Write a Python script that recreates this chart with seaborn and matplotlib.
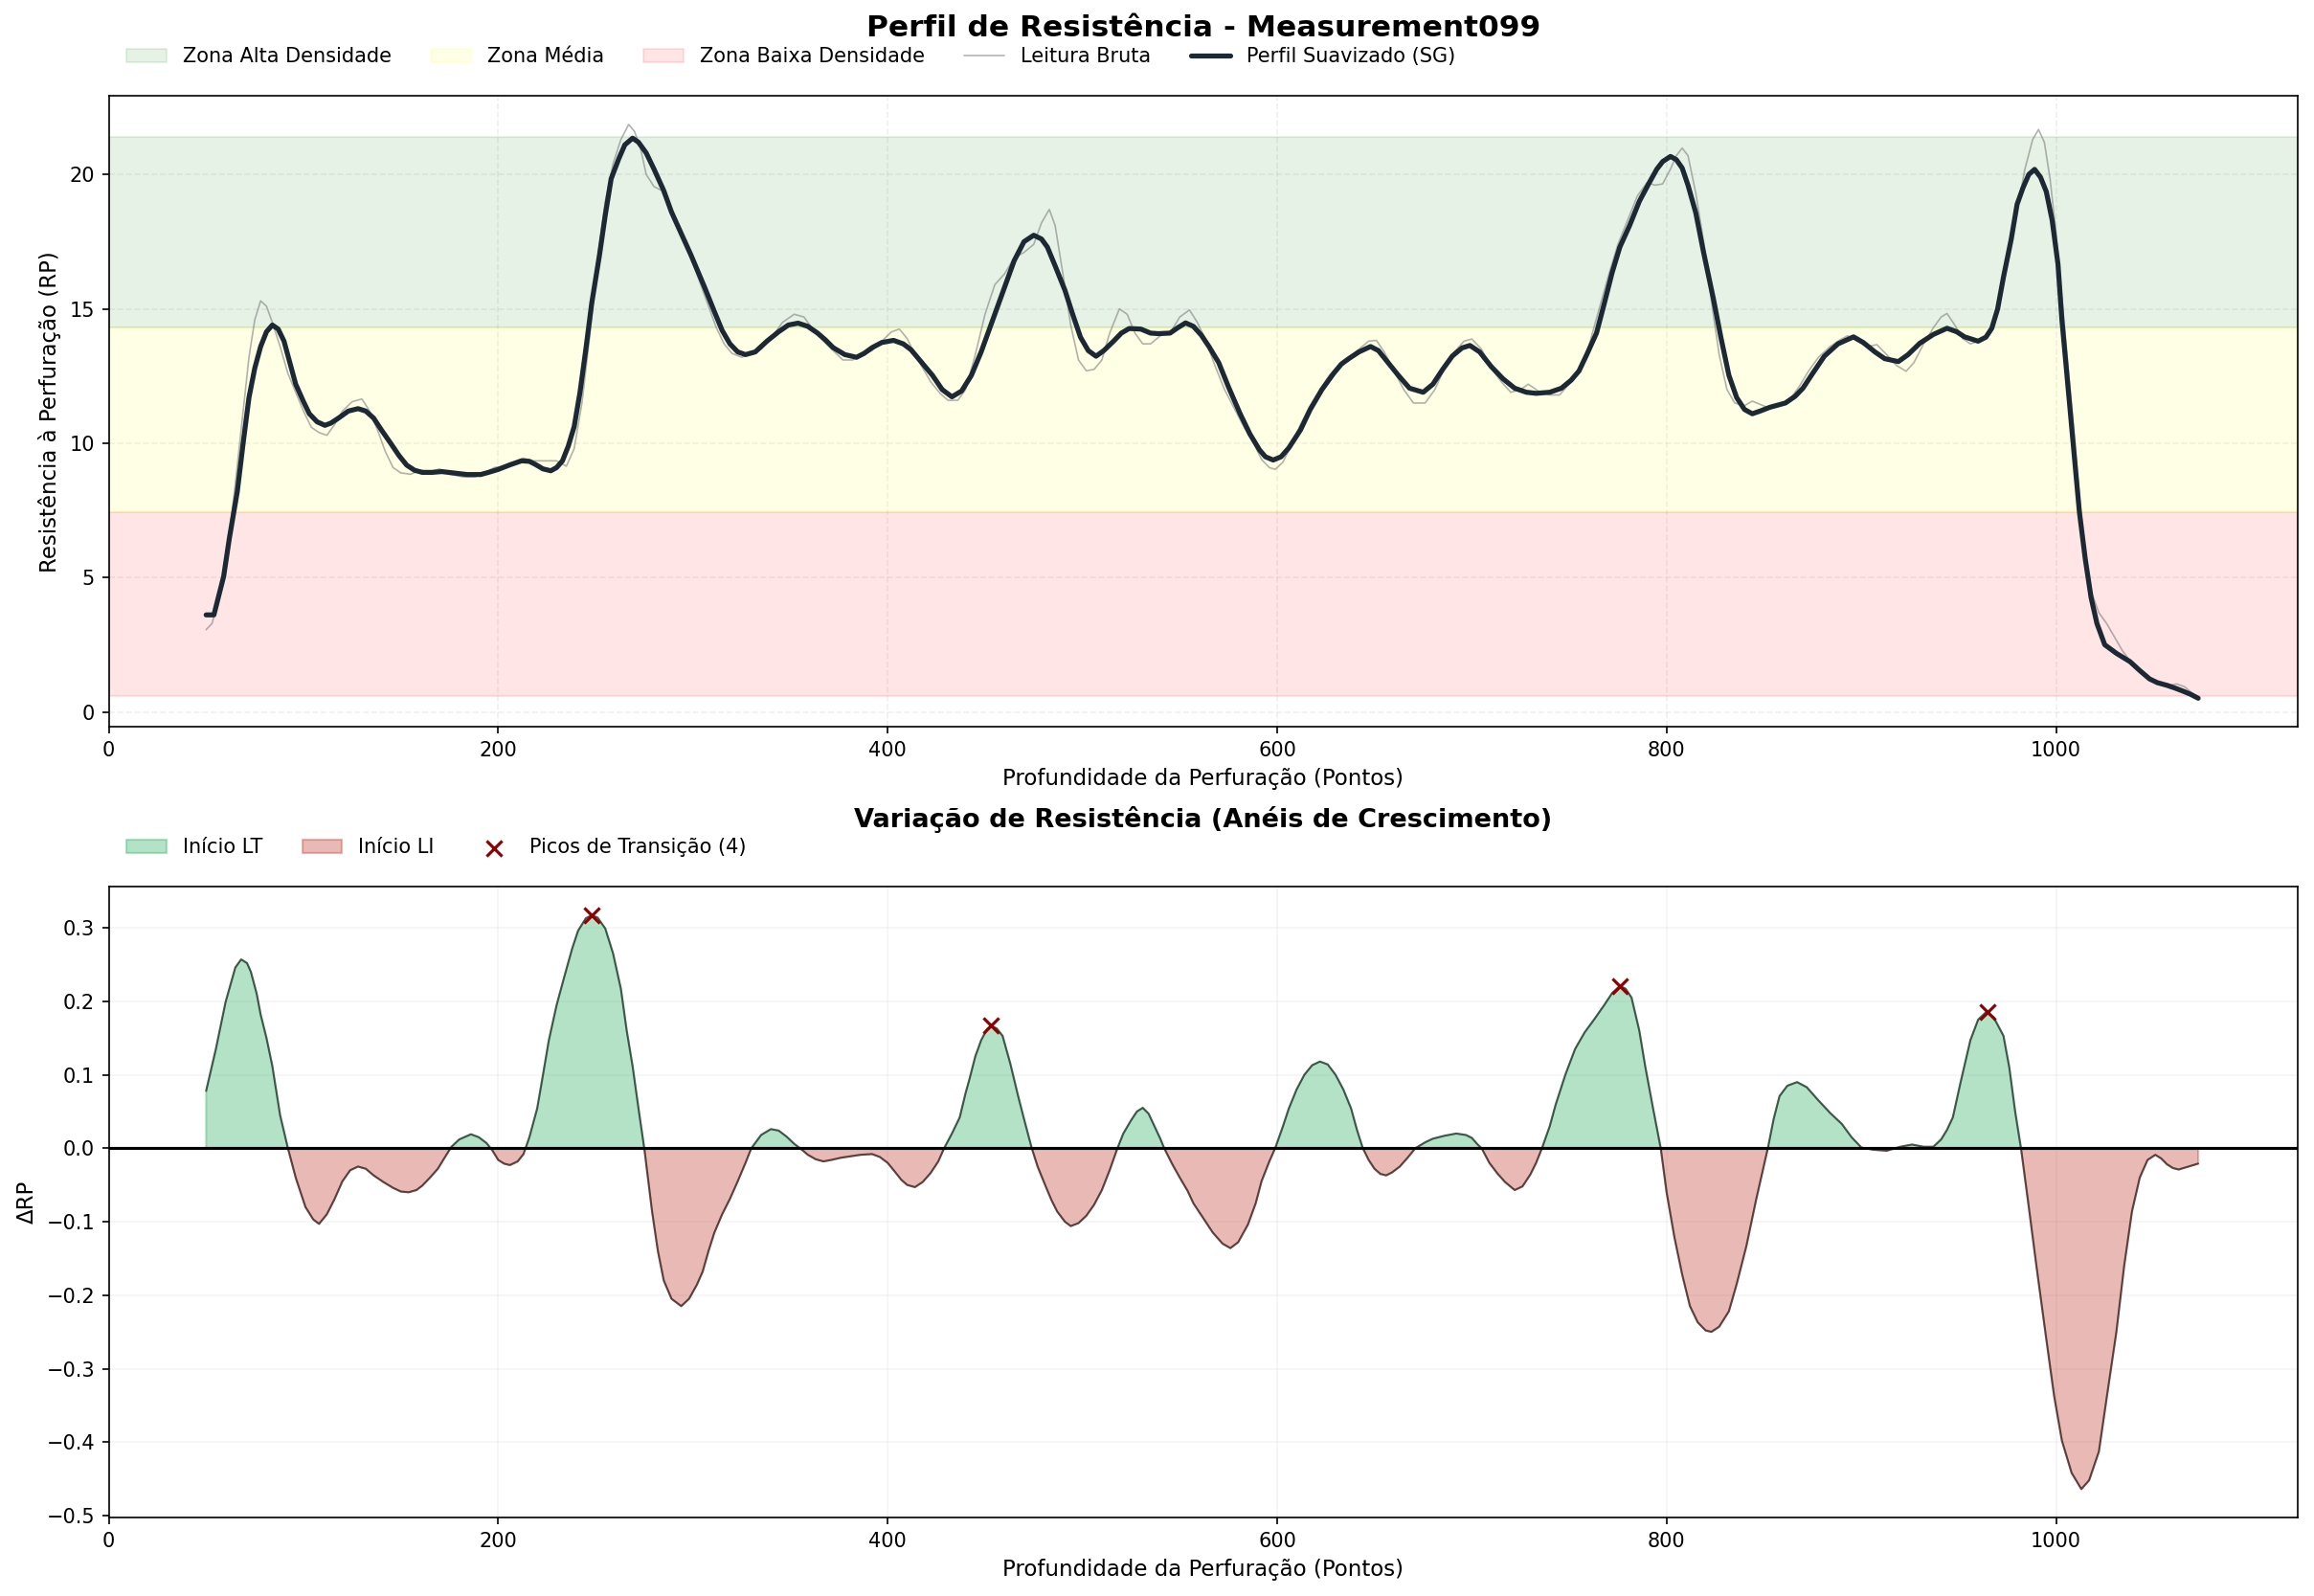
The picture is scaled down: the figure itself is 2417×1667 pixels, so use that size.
import numpy as np
import pandas as pd
import matplotlib
matplotlib.use("Agg")
import matplotlib.pyplot as plt
import seaborn as sns
from matplotlib.patches import Patch
from matplotlib.lines import Line2D

# ---- data ----
smooth_depth = [50, 54, 59, 62, 66, 69, 72, 75, 78, 81, 84, 87, 90, 93, 96, 100, 103, 107, 111, 114,
                118, 123, 128, 132, 136, 140, 145, 149, 153, 157, 161, 166, 171, 177, 184, 191, 195, 200,
                206, 212, 216, 219, 223, 227, 230, 233, 236, 239, 242, 245, 248, 252, 255, 258, 262, 265,
                269, 272, 276, 280, 285, 289, 294, 299, 306, 311, 315, 319, 323, 327, 332, 338, 344, 349,
                354, 359, 364, 368, 372, 378, 384, 388, 392, 397, 403, 408, 412, 417, 423, 428, 433, 438,
                443, 448, 454, 460, 465, 470, 475, 479, 482, 486, 491, 495, 499, 503, 507, 511, 516, 520,
                524, 530, 535, 539, 545, 549, 553, 557, 561, 565, 570, 575, 581, 586, 591, 594, 598, 602,
                606, 612, 617, 623, 629, 633, 637, 642, 648, 652, 657, 662, 668, 675, 680, 685, 690, 695,
                699, 704, 710, 716, 722, 728, 733, 740, 746, 751, 755, 759, 764, 768, 772, 776, 781, 786,
                791, 795, 798, 802, 805, 808, 811, 815, 819, 824, 828, 832, 836, 840, 844, 848, 853, 861,
                866, 870, 875, 881, 888, 896, 901, 907, 912, 919, 924, 930, 937, 944, 949, 953, 960, 964,
                967, 970, 973, 977, 980, 983, 986, 989, 992, 995, 998, 1001, 1003, 1006, 1009, 1012, 1015,
                1018, 1021, 1025, 1031, 1038, 1043, 1048, 1052, 1057, 1061, 1065, 1069, 1073]
smooth_rp = [3.62, 3.62, 5.05, 6.5, 8.2, 10.0, 11.7, 12.8, 13.6, 14.15, 14.4, 14.25, 13.8, 13.0, 12.2,
             11.55, 11.1, 10.8, 10.67, 10.75, 10.94, 11.2, 11.29, 11.2, 10.94, 10.5, 9.98, 9.55, 9.19,
             9.0, 8.92, 8.92, 8.95, 8.9, 8.84, 8.84, 8.92, 9.03, 9.2, 9.35, 9.33, 9.22, 9.05, 8.98, 9.1,
             9.35, 9.9, 10.62, 11.9, 13.5, 15.2, 17.0, 18.5, 19.84, 20.6, 21.1, 21.35, 21.2, 20.8, 20.2,
             19.4, 18.6, 17.8, 17.0, 15.8, 14.9, 14.2, 13.7, 13.4, 13.3, 13.4, 13.8, 14.15, 14.4, 14.47,
             14.35, 14.1, 13.85, 13.56, 13.3, 13.2, 13.35, 13.56, 13.75, 13.83, 13.7, 13.48, 13.05,
             12.53, 12.0, 11.73, 11.95, 12.53, 13.4, 14.6, 15.8, 16.8, 17.5, 17.74, 17.6, 17.3, 16.6,
             15.7, 14.8, 13.95, 13.45, 13.24, 13.45, 13.8, 14.1, 14.27, 14.25, 14.1, 14.08, 14.1, 14.3,
             14.48, 14.35, 14.03, 13.6, 13.0, 12.1, 11.1, 10.35, 9.75, 9.5, 9.38, 9.5, 9.83, 10.5, 11.26,
             12.0, 12.6, 12.95, 13.16, 13.4, 13.6, 13.45, 13.0, 12.55, 12.05, 11.9, 12.2, 12.75, 13.25,
             13.55, 13.64, 13.4, 12.85, 12.4, 12.05, 11.9, 11.86, 11.9, 12.05, 12.35, 12.69, 13.3, 14.1,
             15.2, 16.34, 17.3, 18.1, 19.0, 19.68, 20.2, 20.48, 20.67, 20.55, 20.24, 19.6, 18.57, 17.1,
             15.39, 13.9, 12.53, 11.7, 11.26, 11.1, 11.2, 11.34, 11.5, 11.75, 12.05, 12.6, 13.24, 13.7,
             13.96, 13.75, 13.4, 13.15, 13.04, 13.3, 13.72, 14.05, 14.28, 14.15, 13.96, 13.8, 13.95,
             14.28, 15.0, 16.18, 17.6, 18.89, 19.5, 20.0, 20.19, 19.9, 19.36, 18.3, 16.66, 14.6, 12.2,
             9.8, 7.44, 5.7, 4.26, 3.3, 2.51, 2.19, 1.88, 1.55, 1.24, 1.1, 1.0, 0.9, 0.79, 0.67, 0.52]

raw_depth = [50, 53, 57, 61, 65, 69, 72, 75, 78, 81, 84, 88, 92, 96, 100, 104, 108, 112, 116, 120, 125,
             130, 134, 138, 142, 146, 150, 155, 160, 165, 170, 175, 182, 188, 193, 198, 203, 208, 213,
             218, 224, 230, 235, 239, 243, 247, 251, 255, 259, 263, 267, 270, 273, 276, 280, 284, 289,
             294, 299, 304, 308, 312, 316, 320, 325, 330, 335, 340, 346, 352, 357, 362, 367, 372, 377,
             382, 387, 392, 397, 402, 406, 410, 414, 418, 422, 427, 431, 436, 440, 445, 450, 455, 460,
             465, 470, 475, 479, 483, 486, 490, 494, 498, 502, 506, 510, 514, 519, 523, 527, 531, 535,
             540, 545, 550, 555, 559, 563, 568, 573, 578, 583, 588, 592, 596, 599, 603, 607, 612, 617,
             622, 627, 632, 637, 642, 647, 651, 655, 660, 665, 670, 676, 681, 686, 691, 696, 700, 705,
             710, 715, 720, 725, 729, 734, 740, 745, 750, 755, 760, 765, 770, 775, 780, 785, 790, 794,
             798, 802, 805, 808, 811, 815, 819, 823, 827, 831, 835, 840, 844, 848, 853, 858, 863, 868,
             873, 878, 884, 889, 893, 898, 903, 908, 913, 918, 923, 927, 932, 937, 941, 944, 948, 952,
             956, 960, 964, 968, 972, 976, 980, 984, 988, 991, 994, 997, 1000, 1003, 1006, 1009, 1012,
             1015, 1018, 1022, 1026, 1030, 1034, 1038, 1043, 1048, 1053, 1058, 1062, 1066, 1070, 1073]
raw_rp = [3.07, 3.3, 4.3, 6.0, 8.5, 11.2, 13.2, 14.6, 15.3, 15.1, 14.5, 13.6, 12.6, 11.9, 11.2, 10.6,
          10.4, 10.3, 10.7, 11.2, 11.55, 11.65, 11.2, 10.5, 9.7, 9.1, 8.9, 8.85, 9.0, 8.95, 9.05, 8.85,
          8.75, 8.75, 8.9, 9.1, 9.15, 9.3, 9.45, 9.35, 9.35, 9.35, 9.15, 9.8, 11.5, 14.0, 16.8, 19.0,
          20.4, 21.3, 21.86, 21.6, 21.0, 20.0, 19.55, 19.4, 18.5, 17.7, 16.9, 15.9, 15.1, 14.3, 13.7,
          13.35, 13.2, 13.35, 13.5, 13.9, 14.5, 14.8, 14.7, 14.2, 13.8, 13.45, 13.1, 13.1, 13.3, 13.45,
          13.8, 14.15, 14.25, 13.9, 13.3, 12.8, 12.3, 11.85, 11.6, 11.6, 12.0, 13.3, 14.8, 15.9, 16.3,
          16.9, 17.1, 17.4, 18.2, 18.7, 18.1, 16.3, 14.4, 13.1, 12.7, 12.75, 13.1, 14.1, 15.0, 14.8,
          14.1, 13.7, 13.7, 14.0, 14.1, 14.7, 14.96, 14.5, 13.9, 12.9, 12.0, 11.3, 10.6, 10.0, 9.4,
          9.1, 9.03, 9.3, 9.9, 10.7, 11.4, 12.0, 12.55, 12.9, 13.2, 13.5, 13.8, 13.83, 13.4, 12.7,
          12.0, 11.5, 11.5, 12.0, 12.8, 13.4, 13.8, 13.88, 13.5, 12.8, 12.3, 11.9, 12.0, 12.2, 11.95,
          11.8, 11.8, 12.2, 12.7, 13.6, 14.9, 16.2, 17.4, 18.3, 19.2, 19.7, 19.6, 19.65, 20.2, 20.7,
          20.98, 20.7, 19.3, 17.5, 15.3, 13.3, 12.0, 11.5, 11.4, 11.57, 11.45, 11.3, 11.4, 11.6, 12.1,
          12.7, 13.2, 13.6, 13.85, 14.0, 13.8, 13.6, 13.67, 13.3, 12.9, 12.68, 13.0, 13.7, 14.3, 14.7,
          14.83, 14.4, 13.9, 13.7, 13.8, 14.0, 14.5, 15.6, 17.0, 18.6, 20.2, 21.3, 21.67, 21.2, 19.8,
          17.8, 15.4, 13.0, 10.6, 8.0, 5.8, 4.5, 3.7, 3.3, 2.8, 2.3, 1.9, 1.5, 1.25, 1.1, 1.0, 1.05,
          0.95, 0.7, 0.55]

zone_limits = [0.6, 7.45, 14.3, 21.4]  # baixa / media / alta boundaries

delta_depth = [50, 55, 60, 65, 68, 71, 73, 76, 78, 81, 84, 88, 92, 96, 101, 105, 108, 112, 116, 120,
               124, 128, 132, 136, 141, 146, 150, 154, 158, 161, 165, 169, 172, 176, 180, 186, 190, 194,
               197, 200, 203, 206, 210, 213, 216, 220, 223, 226, 230, 234, 238, 241, 245, 248, 251, 255,
               259, 263, 266, 269, 272, 275, 279, 282, 285, 289, 294, 298, 302, 305, 308, 311, 315, 319,
               323, 327, 330, 335, 340, 344, 348, 352, 355, 359, 363, 367, 371, 376, 381, 386, 392, 396,
               400, 404, 407, 410, 414, 418, 422, 426, 429, 433, 437, 440, 442, 445, 448, 451, 453, 456,
               459, 463, 467, 470, 474, 477, 481, 484, 487, 491, 494, 498, 502, 506, 510, 514, 518, 521,
               525, 528, 531, 534, 537, 540, 542, 546, 550, 554, 557, 562, 567, 572, 576, 580, 585, 589,
               592, 596, 599, 603, 606, 610, 614, 618, 622, 626, 630, 634, 638, 641, 644, 647, 650, 653,
               656, 659, 663, 667, 671, 676, 680, 686, 692, 697, 700, 703, 705, 709, 713, 717, 722, 726,
               730, 733, 736, 740, 743, 748, 753, 758, 763, 768, 772, 776, 779, 782, 786, 789, 793, 797,
               800, 804, 808, 812, 816, 820, 823, 827, 832, 836, 841, 846, 852, 855, 858, 862, 867, 872,
               878, 884, 890, 895, 900, 906, 913, 920, 926, 932, 937, 941, 944, 947, 951, 956, 960, 964,
               968, 973, 976, 979, 982, 986, 990, 995, 999, 1003, 1008, 1013, 1017, 1022, 1026, 1031,
               1035, 1039, 1043, 1047, 1051, 1054, 1057, 1060, 1063, 1068, 1073]
delta_rp = [0.078, 0.135, 0.199, 0.246, 0.257, 0.252, 0.240, 0.21, 0.182, 0.15, 0.112, 0.045, 0.0,
            -0.040, -0.080, -0.097, -0.103, -0.090, -0.069, -0.045, -0.030, -0.025, -0.028, -0.037,
            -0.046, -0.054, -0.059, -0.060, -0.057, -0.051, -0.04, -0.028, -0.015, 0.002, 0.012, 0.019,
            0.015, 0.007, -0.003, -0.016, -0.021, -0.023, -0.018, -0.008, 0.015, 0.054, 0.1, 0.147,
            0.195, 0.234, 0.272, 0.296, 0.313, 0.317, 0.314, 0.299, 0.265, 0.217, 0.16, 0.112, 0.055,
            0.0, -0.086, -0.14, -0.180, -0.205, -0.215, -0.205, -0.186, -0.168, -0.14, -0.115, -0.09,
            -0.069, -0.045, -0.02, 0.0, 0.018, 0.026, 0.024, 0.016, 0.006, 0.0, -0.009, -0.015, -0.018,
            -0.016, -0.013, -0.011, -0.009, -0.008, -0.012, -0.02, -0.033, -0.043, -0.05, -0.053,
            -0.046, -0.034, -0.018, 0.0, 0.02, 0.042, 0.075, 0.094, 0.125, 0.147, 0.162, 0.167, 0.163,
            0.153, 0.115, 0.071, 0.04, 0.0, -0.025, -0.051, -0.07, -0.086, -0.1, -0.106, -0.102,
            -0.092, -0.077, -0.057, -0.03, 0.0, 0.02, 0.038, 0.05, 0.055, 0.047, 0.030, 0.013, 0.0,
            -0.021, -0.040, -0.058, -0.075, -0.095, -0.115, -0.13, -0.136, -0.128, -0.104, -0.075,
            -0.045, -0.018, 0.0, 0.03, 0.054, 0.08, 0.100, 0.113, 0.118, 0.114, 0.100, 0.08, 0.054,
            0.025, 0.0, -0.016, -0.028, -0.035, -0.037, -0.033, -0.025, -0.013, 0.0, 0.008, 0.013,
            0.017, 0.020, 0.018, 0.014, 0.005, 0.0, -0.02, -0.034, -0.046, -0.057, -0.052, -0.036,
            -0.02, 0.0, 0.03, 0.059, 0.1, 0.135, 0.158, 0.176, 0.195, 0.211, 0.221, 0.217, 0.205, 0.16,
            0.112, 0.055, 0.0, -0.06, -0.121, -0.172, -0.215, -0.237, -0.248, -0.250, -0.243, -0.222,
            -0.185, -0.133, -0.07, 0.0, 0.04, 0.071, 0.085, 0.090, 0.083, 0.065, 0.048, 0.033, 0.015,
            0.001, -0.002, -0.0035, 0.002, 0.005, 0.002, 0.002, 0.012, 0.025, 0.042, 0.09, 0.147,
            0.175, 0.185, 0.178, 0.153, 0.11, 0.05, 0.0, -0.08, -0.162, -0.26, -0.337, -0.398, -0.442,
            -0.464, -0.452, -0.413, -0.34, -0.250, -0.16, -0.086, -0.04, -0.016, -0.009, -0.014,
            -0.022, -0.027, -0.029, -0.025, -0.021]

peak_depth = [248, 453, 776, 965]
peak_delta = [0.317, 0.167, 0.221, 0.185]


def main():
    sns.set_style("ticks")
    plt.rcParams["font.family"] = ["DejaVu Sans"]
    plt.rcParams.update({
        "text.color": "black",
        "axes.labelcolor": "black",
        "xtick.color": "black",
        "ytick.color": "black",
        "axes.edgecolor": "black",
    })

    fig, (ax1, ax2) = plt.subplots(2, 1, figsize=(2417 / 150, 1667 / 150), dpi=150)
    fig.subplots_adjust(left=0.047, right=0.993, top=0.940, bottom=0.049, hspace=0.253)

    # ---- top: resistance profile ----
    ax1.axhspan(zone_limits[0], zone_limits[1], color="red", alpha=0.1)
    ax1.axhspan(zone_limits[1], zone_limits[2], color="yellow", alpha=0.1)
    ax1.axhspan(zone_limits[2], zone_limits[3], color="green", alpha=0.1)

    raw = pd.DataFrame({"depth": raw_depth, "rp": raw_rp})
    smooth = pd.DataFrame({"depth": smooth_depth, "rp": smooth_rp})
    sns.lineplot(data=raw, x="depth", y="rp", ax=ax1, color="gray", lw=0.8, alpha=0.6)
    sns.lineplot(data=smooth, x="depth", y="rp", ax=ax1, color="#1c2833", lw=2.5)

    ax1.grid(True, linestyle="--", alpha=0.3)
    ax1.set_xlabel("Profundidade da Perfuração (Pontos)", fontsize=11)
    ax1.set_ylabel("Resistência à Perfuração (RP)", fontsize=11)
    ax1.set_title("Perfil de Resistência - Measurement099", fontsize=15, fontweight="bold", pad=30)
    ax1.set_xlim(left=0)
    handles = [
        Patch(facecolor="green", edgecolor="green", alpha=0.1),
        Patch(facecolor="yellow", edgecolor="yellow", alpha=0.1),
        Patch(facecolor="red", edgecolor="red", alpha=0.1),
        Line2D([], [], color="gray", lw=0.8, alpha=0.6),
        Line2D([], [], color="#1c2833", lw=2.5),
    ]
    labels = ["Zona Alta Densidade", "Zona Média", "Zona Baixa Densidade",
              "Leitura Bruta", "Perfil Suavizado (SG)"]
    ax1.legend(handles, labels, loc="lower left", bbox_to_anchor=(0, 1.018), ncol=5,
               frameon=False, fontsize=10)

    # ---- bottom: resistance variation ----
    d = np.array(delta_depth)
    v = np.array(delta_rp)
    pos = ax2.fill_between(d, v, 0, where=v >= 0, interpolate=True, color="#27ae60", alpha=0.35)
    neg = ax2.fill_between(d, v, 0, where=v <= 0, interpolate=True, color="#c0392b", alpha=0.35)
    sns.lineplot(x=d, y=v, ax=ax2, color="black", lw=1, alpha=0.6)
    ax2.axhline(0, color="black", lw=1.5)
    pk = ax2.scatter(peak_depth, peak_delta, marker="x", color="darkred", s=60, zorder=5)

    ax2.grid(True, alpha=0.2)
    ax2.set_xlabel("Profundidade da Perfuração (Pontos)", fontsize=11)
    ax2.set_ylabel("ΔRP", fontsize=11)
    ax2.set_title("Variação de Resistência (Anéis de Crescimento)", fontsize=13,
                  fontweight="bold", pad=30)
    ax2.set_xlim(ax1.get_xlim())
    ax2.legend([pos, neg, pk], ["Início LT", "Início LI", f"Picos de Transição ({len(peak_depth)})"],
               loc="lower left", bbox_to_anchor=(0, 1.018), ncol=3, frameon=False, fontsize=10)

    fig.savefig("out.png", dpi=150)


if __name__ == "__main__":
    main()
